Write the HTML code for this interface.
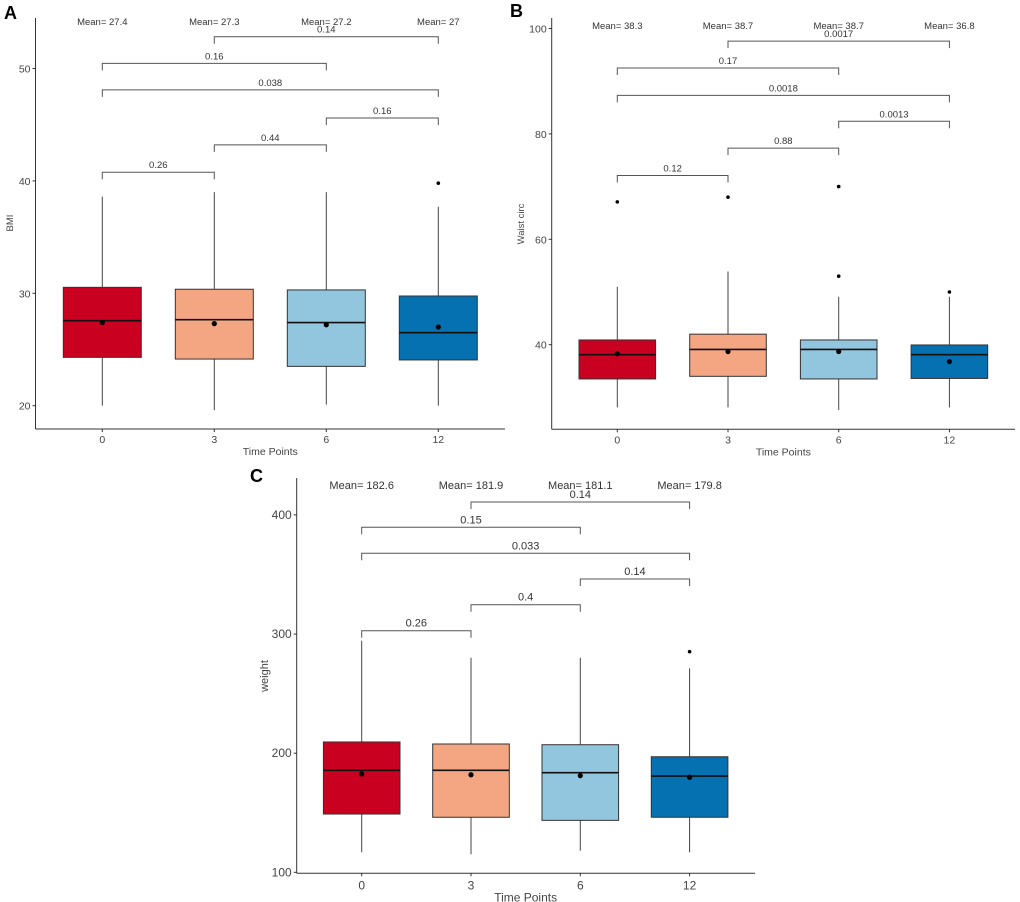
<!DOCTYPE html>
<html><head><meta charset="utf-8"><style>
html,body{margin:0;padding:0;background:#fff;}
svg{display:block;font-family:"Liberation Sans",Arial,sans-serif;}
</style></head><body>
<svg id="fig" width="1020" height="902" viewBox="0 0 1020 902" xmlns="http://www.w3.org/2000/svg"></svg>
<script>
const groups = ["0","3","6","12"];
const colors = ["#CA0020","#F4A582","#92C5DE","#0571B0"];
const pairs = [[1,3],[0,2],[0,3],[2,3],[1,2],[0,1]];

// Panel A (BMI)
const bmiQ1 = [24.3,24.15,23.5,24.07];
const bmiMed = [27.56,27.65,27.4,26.5];
const bmiQ3 = [30.53,30.36,30.3,29.76];
const bmiLo = [20,19.6,20.1,20];
const bmiHi = [38.6,39.0,39.0,37.7];
const bmiMean = [27.4,27.3,27.2,27];
const bmiMeanLabels = ["Mean= 27.4","Mean= 27.3","Mean= 27.2","Mean= 27"];
const bmiOutliers = [[],[],[],[39.8]];
const bmiPvals = ["0.14","0.16","0.038","0.16","0.44","0.26"];
const bmiBracketY = [52.83,50.46,48.1,45.6,43.2,40.77];
const bmiTicks = [20,30,40,50];

// Panel B (Waist circ)
const waistQ1 = [33.5,34,33.5,33.6];
const waistMed = [38.1,39.1,39.1,38.1];
const waistQ3 = [40.9,42,40.9,39.95];
const waistLo = [28.1,28.1,27.6,28.1];
const waistHi = [51,53.9,49.1,49.1];
const waistMean = [38.3,38.7,38.7,36.8];
const waistMeanLabels = ["Mean= 38.3","Mean= 38.7","Mean= 38.7","Mean= 36.8"];
const waistOutliers = [[67.1],[68],[70,53],[50]];
const waistPvals = ["0.0017","0.17","0.0018","0.0013","0.88","0.12"];
const waistBracketY = [97.6,92.5,87.3,82.4,77.3,72.1];
const waistTicks = [40,60,80,100];

// Panel C (weight)
const wtQ1 = [148.9,146.2,143.6,146.2];
const wtMed = [185.6,185.6,183.6,180.8];
const wtQ3 = [209.4,207.7,207.1,197];
const wtLo = [116.8,115.1,118.1,116.8];
const wtHi = [294.4,280.1,280.1,271.2];
const wtMean = [182.6,181.9,181.1,179.8];
const wtMeanLabels = ["Mean= 182.6","Mean= 181.9","Mean= 181.1","Mean= 179.8"];
const wtOutliers = [[],[],[],[285.2]];
const wtPvals = ["0.14","0.15","0.033","0.14","0.4","0.26"];
const wtBracketY = [410.8,389.6,367.8,346.2,324.6,302.8];
const wtTicks = [100,200,300,400];

const NS="http://www.w3.org/2000/svg";
const svg=document.getElementById('fig');
function el(tag,attrs,parent,text){const e=document.createElementNS(NS,tag);for(const k in attrs)e.setAttribute(k,attrs[k]);if(text!==undefined)e.textContent=text;(parent||svg).appendChild(e);return e;}

function panel(cfg){
  const g=el('g',{});
  
  
  const y=v=>cfg.y0-(v-cfg.v0)*cfg.k;
  const x=i=>cfg.x0+i*cfg.dx;
  const fs=cfg.fs;
  const L=el('text',{x:cfg.letter[0],y:cfg.letter[1],'font-size':18,'font-weight':'bold',fill:'#000'},g,cfg.letterText);
  
  
  const ya=el('line',{x1:cfg.ax,y1:cfg.top,x2:cfg.ax,y2:cfg.bottom,stroke:'#333','stroke-width':1},g);
  
  
  const xa=el('line',{x1:cfg.ax,y1:cfg.bottom,x2:cfg.right,y2:cfg.bottom,stroke:'#333','stroke-width':1},g);
  
  
  cfg.ticks.forEach(t=>{
    el('line',{x1:cfg.ax-3,y1:y(t),x2:cfg.ax,y2:y(t),stroke:'#333'},g);
    const tl=el('text',{x:cfg.ax-5,y:y(t)+4,'font-size':fs+1,fill:'#444','text-anchor':'end'},g,String(t));
    
    
  });
  groups.forEach((gname,i)=>{
    el('line',{x1:x(i),y1:cfg.bottom,x2:x(i),y2:cfg.bottom+3,stroke:'#333'},g);
    const tl=el('text',{x:x(i),y:cfg.bottom+cfg.xtOff,'font-size':fs+1,fill:'#444','text-anchor':'middle'},g,gname);
    
    
  });
  const xt=el('text',{x:(x(0)+x(3))/2,y:cfg.bottom+cfg.xtOff+12,'font-size':fs+1,fill:'#444','text-anchor':'middle'},g,'Time Points');
  
  
  const yt=el('text',{x:0,y:0,'font-size':fs,fill:'#444','text-anchor':'middle',transform:`translate(${cfg.ytx},${cfg.yty}) rotate(-90)`},g,cfg.ylabel);
  
  
  const hw=cfg.hw;
  groups.forEach((gname,i)=>{
    const cx=x(i);
    const w1=el('line',{x1:cx,y1:y(cfg.hi[i]),x2:cx,y2:y(cfg.q3[i]),stroke:'#444','stroke-width':1},g);
    
    
    const w2=el('line',{x1:cx,y1:y(cfg.q1[i]),x2:cx,y2:y(cfg.lo[i]),stroke:'#444','stroke-width':1},g);
    
    
    const b=el('rect',{x:cx-hw,y:y(cfg.q3[i]),width:2*hw,height:y(cfg.q1[i])-y(cfg.q3[i]),fill:colors[i],stroke:'#333','stroke-width':1},g);
    
    
    const m=el('line',{x1:cx-hw,y1:y(cfg.med[i]),x2:cx+hw,y2:y(cfg.med[i]),stroke:'#111','stroke-width':1.6},g);
    
    
    const mp=el('circle',{cx:cx,cy:y(cfg.mean[i]),r:2.6,fill:'#000'},g);
    
    
    cfg.out[i].forEach(o=>{
      const op=el('circle',{cx:cx,cy:y(o),r:1.8,fill:'#000'},g);
      
      
    });
    const ml=el('text',{x:cx,y:cfg.meanY,'font-size':fs,fill:'#333','text-anchor':'middle'},g,cfg.meanLabels[i]);
    
    
  });
  pairs.forEach((p,j)=>{
    const by=y(cfg.by[j]), xa1=x(p[0]), xb=x(p[1]);
    const br=el('path',{d:`M${xa1},${by+cfg.tick} V${by} H${xb} V${by+cfg.tick}`,fill:'none',stroke:'#555','stroke-width':1},g);
    
    
    const pt=el('text',{x:(xa1+xb)/2,y:by-4,'font-size':fs,fill:'#333','text-anchor':'middle'},g,cfg.pv[j]);
    
    
  });
}

panel({name:'panel-a-bmi',letterText:'A',letter:[4,19],ax:35.5,top:18,bottom:429,right:505,
  y0:405.7,v0:20,k:11.24,x0:102.3,dx:112,hw:39,fs:9.5,xtOff:14,meanY:25,tick:7,
  ticks:bmiTicks,ylabel:'BMI',ytx:13,yty:223,
  q1:bmiQ1,med:bmiMed,q3:bmiQ3,lo:bmiLo,hi:bmiHi,mean:bmiMean,out:bmiOutliers,meanLabels:bmiMeanLabels,pv:bmiPvals,by:bmiBracketY});
panel({name:'panel-b-waist',letterText:'B',letter:[510,17],ax:551.7,top:18,bottom:429.3,right:1015,
  y0:344.7,v0:40,k:5.27,x0:617.3,dx:110.7,hw:38.3,fs:9.5,xtOff:14,meanY:29,tick:7,
  ticks:waistTicks,ylabel:'Waist circ',ytx:524,yty:224,
  q1:waistQ1,med:waistMed,q3:waistQ3,lo:waistLo,hi:waistHi,mean:waistMean,out:waistOutliers,meanLabels:waistMeanLabels,pv:waistPvals,by:waistBracketY});
panel({name:'panel-c-weight',letterText:'C',letter:[250,482],ax:296.7,top:478,bottom:873.3,right:755,
  y0:872.3,v0:100,k:1.1913,x0:361.7,dx:109.3,hw:38.3,fs:11,xtOff:16,meanY:489,tick:7,
  ticks:wtTicks,ylabel:'weight',ytx:268,yty:676,
  q1:wtQ1,med:wtMed,q3:wtQ3,lo:wtLo,hi:wtHi,mean:wtMean,out:wtOutliers,meanLabels:wtMeanLabels,pv:wtPvals,by:wtBracketY});
</script>
</body></html>
